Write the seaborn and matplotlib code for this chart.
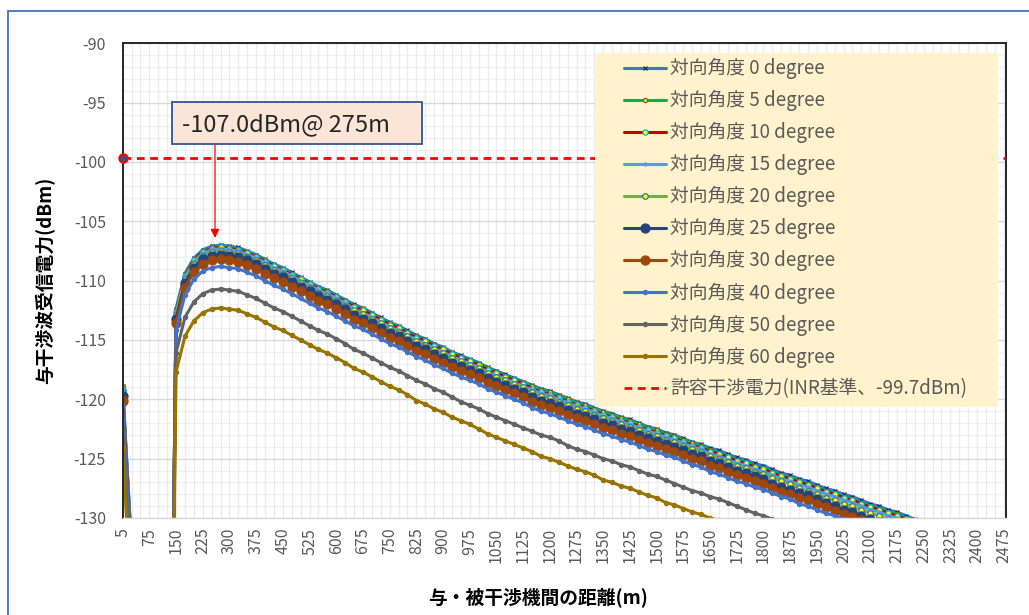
import matplotlib
matplotlib.use("Agg")
import matplotlib.pyplot as plt
from matplotlib.patches import Rectangle
import seaborn as sns

# ---------------- data ----------------
distance_m = [5] + list(range(25, 2500, 25))   # category axis (100 points)
angles = [0, 5, 10, 15, 20, 25, 30, 40, 50, 60]
inr_limit = -99.7
peak_text = "-107.0dBm@ 275m"

deg0 = [-118.9, -132.4, -180, -180, -180, -180,
        -112.4, -109.4, -108.1, -107.4, -107.1, -107.0, -107.1, -107.2, -107.5, -107.8,
        -108.2, -108.6, -108.9, -109.3, -109.7, -110.1, -110.5, -110.8, -111.2, -111.6,
        -112.0, -112.3, -112.7, -113.1, -113.5, -113.8, -114.2, -114.6, -114.9, -115.3,
        -115.6, -116.0, -116.3, -116.6, -116.9, -117.3, -117.6, -117.9, -118.2, -118.5,
        -118.8, -119.1, -119.3, -119.6, -119.9, -120.2, -120.4, -120.7, -121.0, -121.2,
        -121.5, -121.7, -122.0, -122.3, -122.5, -122.8, -123.0, -123.3, -123.6, -123.8,
        -124.1, -124.3, -124.6, -124.9, -125.1, -125.4, -125.6, -125.9, -126.2, -126.4,
        -126.7, -126.9, -127.2, -127.5, -127.7, -128.0, -128.2, -128.5, -128.8, -129.0,
        -129.3, -129.5, -129.8, -130.1, -130.3, -130.6, -130.8, -131.1, -131.4, -131.6,
        -131.9, -132.1, -132.4, -132.7]

deg5 = [-119.0, -132.5, -180, -180, -180, -180,
        -112.5, -109.5, -108.2, -107.5, -107.2, -107.1, -107.2, -107.3, -107.6, -107.9,
        -108.3, -108.7, -109.0, -109.4, -109.8, -110.2, -110.6, -110.9, -111.3, -111.7,
        -112.1, -112.4, -112.8, -113.2, -113.6, -113.9, -114.3, -114.7, -115.0, -115.4,
        -115.7, -116.1, -116.4, -116.7, -117.0, -117.4, -117.7, -118.0, -118.3, -118.6,
        -118.9, -119.2, -119.4, -119.7, -120.0, -120.3, -120.5, -120.8, -121.1, -121.3,
        -121.6, -121.8, -122.1, -122.4, -122.6, -122.9, -123.1, -123.4, -123.7, -123.9,
        -124.3, -124.5, -124.8, -125.1, -125.3, -125.6, -125.8, -126.1, -126.4, -126.6,
        -126.9, -127.1, -127.4, -127.7, -127.9, -128.2, -128.4, -128.7, -129.0, -129.2,
        -129.5, -129.7, -130.0, -130.3, -130.5, -130.8, -131.0, -131.3, -131.6, -131.8,
        -132.1, -132.3, -132.6, -132.9]

deg10 = [-119.2, -132.7, -180, -180, -180, -180,
         -112.6, -109.6, -108.3, -107.6, -107.3, -107.2, -107.3, -107.4, -107.7, -108.0,
         -108.4, -108.8, -109.1, -109.5, -109.9, -110.3, -110.7, -111.0, -111.4, -111.8,
         -112.2, -112.5, -112.9, -113.3, -113.7, -114.0, -114.4, -114.8, -115.1, -115.5,
         -115.8, -116.2, -116.5, -116.8, -117.1, -117.5, -117.8, -118.1, -118.4, -118.7,
         -119.1, -119.4, -119.6, -119.9, -120.2, -120.5, -120.7, -121.0, -121.3, -121.5,
         -121.8, -122.0, -122.3, -122.6, -122.8, -123.1, -123.3, -123.6, -123.9, -124.1,
         -124.4, -124.6, -124.9, -125.2, -125.4, -125.7, -125.9, -126.2, -126.5, -126.7,
         -127.0, -127.2, -127.5, -127.8, -128.0, -128.3, -128.5, -128.8, -129.1, -129.3,
         -129.6, -129.8, -130.1, -130.4, -130.6, -130.9, -131.1, -131.4, -131.7, -131.9,
         -132.2, -132.4, -132.7, -133.0]

deg15 = [-119.3, -132.8, -180, -180, -180, -180,
         -112.7, -109.7, -108.4, -107.7, -107.4, -107.3, -107.4, -107.5, -107.8, -108.1,
         -108.5, -108.9, -109.2, -109.6, -110.0, -110.4, -110.8, -111.1, -111.5, -111.9,
         -112.4, -112.7, -113.1, -113.5, -113.9, -114.2, -114.6, -115.0, -115.3, -115.7,
         -116.0, -116.4, -116.7, -117.0, -117.3, -117.7, -118.0, -118.3, -118.6, -118.9,
         -119.2, -119.5, -119.7, -120.0, -120.3, -120.6, -120.8, -121.1, -121.4, -121.6,
         -121.9, -122.1, -122.4, -122.7, -122.9, -123.2, -123.4, -123.7, -124.0, -124.2,
         -124.6, -124.8, -125.1, -125.4, -125.6, -125.9, -126.1, -126.4, -126.7, -126.9,
         -127.2, -127.4, -127.7, -128.0, -128.2, -128.5, -128.7, -129.0, -129.3, -129.5,
         -129.8, -130.0, -130.3, -130.6, -130.8, -131.1, -131.3, -131.6, -131.9, -132.1,
         -132.4, -132.6, -132.9, -133.2]

deg20 = [-119.4, -132.9, -180, -180, -180, -180,
         -112.9, -109.9, -108.6, -107.9, -107.6, -107.5, -107.6, -107.7, -108.0, -108.3,
         -108.7, -109.1, -109.4, -109.8, -110.2, -110.6, -111.0, -111.3, -111.7, -112.1,
         -112.5, -112.8, -113.2, -113.6, -114.0, -114.3, -114.7, -115.1, -115.4, -115.8,
         -116.1, -116.5, -116.8, -117.1, -117.4, -117.8, -118.1, -118.4, -118.7, -119.0,
         -119.4, -119.7, -119.9, -120.2, -120.5, -120.8, -121.0, -121.3, -121.6, -121.8,
         -122.1, -122.3, -122.6, -122.9, -123.1, -123.4, -123.6, -123.9, -124.2, -124.4,
         -124.8, -125.0, -125.3, -125.6, -125.8, -126.1, -126.3, -126.6, -126.9, -127.1,
         -127.5, -127.7, -128.0, -128.3, -128.5, -128.8, -129.0, -129.3, -129.6, -129.8,
         -130.1, -130.3, -130.6, -130.9, -131.1, -131.4, -131.6, -131.9, -132.2, -132.4,
         -132.7, -132.9, -133.2, -133.5]

deg25 = [-119.7, -133.2, -180, -180, -180, -180,
         -113.2, -110.2, -108.9, -108.2, -107.9, -107.8, -107.9, -108.0, -108.3, -108.6,
         -109.0, -109.4, -109.7, -110.1, -110.5, -110.9, -111.3, -111.6, -112.0, -112.4,
         -112.9, -113.2, -113.6, -114.0, -114.4, -114.7, -115.1, -115.5, -115.8, -116.2,
         -116.5, -116.9, -117.2, -117.5, -117.8, -118.2, -118.5, -118.8, -119.1, -119.4,
         -119.8, -120.1, -120.3, -120.6, -120.9, -121.2, -121.4, -121.7, -122.0, -122.2,
         -122.5, -122.7, -123.0, -123.3, -123.5, -123.8, -124.0, -124.3, -124.6, -124.8,
         -125.2, -125.4, -125.7, -126.0, -126.2, -126.5, -126.7, -127.1, -127.4, -127.6,
         -127.9, -128.1, -128.4, -128.7, -129.0, -129.3, -129.5, -129.8, -130.1, -130.3,
         -130.6, -130.8, -131.1, -131.4, -131.6, -131.9, -132.1, -132.4, -132.7, -132.9,
         -133.2, -133.4, -133.7, -134.0]

deg30 = [-120.1, -133.6, -180, -180, -180, -180,
         -113.6, -110.6, -109.3, -108.6, -108.3, -108.2, -108.3, -108.4, -108.7, -109.0,
         -109.4, -109.8, -110.1, -110.5, -110.9, -111.3, -111.7, -112.0, -112.4, -112.8,
         -113.3, -113.6, -114.0, -114.4, -114.8, -115.1, -115.5, -115.9, -116.2, -116.6,
         -116.9, -117.3, -117.6, -117.9, -118.2, -118.6, -118.9, -119.2, -119.5, -119.8,
         -120.2, -120.5, -120.7, -121.0, -121.3, -121.6, -121.8, -122.1, -122.4, -122.6,
         -122.9, -123.1, -123.4, -123.7, -123.9, -124.2, -124.4, -124.7, -125.0, -125.2,
         -125.6, -125.8, -126.1, -126.4, -126.6, -126.9, -127.1, -127.5, -127.8, -128.0,
         -128.3, -128.5, -128.8, -129.1, -129.4, -129.7, -129.9, -130.2, -130.5, -130.7,
         -131.0, -131.2, -131.5, -131.8, -132.0, -132.3, -132.5, -132.8, -133.1, -133.3,
         -133.6, -133.8, -134.1, -134.4]

deg40 = [-120.5, -134.0, -180, -180, -180, -180,
         -114.2, -111.2, -109.9, -109.2, -108.9, -108.8, -108.9, -109.0, -109.3, -109.6,
         -110.0, -110.4, -110.7, -111.1, -111.5, -111.9, -112.3, -112.6, -113.0, -113.4,
         -113.8, -114.1, -114.5, -114.9, -115.3, -115.6, -116.0, -116.4, -116.7, -117.1,
         -117.4, -117.8, -118.1, -118.4, -118.7, -119.1, -119.4, -119.7, -120.0, -120.3,
         -120.7, -121.0, -121.2, -121.5, -121.8, -122.1, -122.3, -122.6, -122.9, -123.1,
         -123.4, -123.6, -123.9, -124.2, -124.4, -124.7, -124.9, -125.2, -125.5, -125.7,
         -126.1, -126.3, -126.6, -126.9, -127.1, -127.4, -127.6, -127.9, -128.2, -128.4,
         -128.8, -129.0, -129.3, -129.6, -129.8, -130.1, -130.3, -130.6, -130.9, -131.1,
         -131.4, -131.6, -131.9, -132.2, -132.4, -132.7, -132.9, -133.2, -133.5, -133.7,
         -134.0, -134.2, -134.5, -134.8]

deg50 = [-122.4, -135.9, -180, -180, -180, -180,
         -116.1, -113.1, -111.8, -111.1, -110.8, -110.7, -110.8, -110.9, -111.2, -111.5,
         -111.9, -112.3, -112.6, -113.0, -113.4, -113.8, -114.2, -114.5, -114.9, -115.3,
         -115.8, -116.1, -116.5, -116.9, -117.3, -117.6, -118.0, -118.4, -118.7, -119.1,
         -119.4, -119.8, -120.2, -120.5, -120.8, -121.2, -121.5, -121.8, -122.1, -122.4,
         -122.7, -123.0, -123.2, -123.5, -123.9, -124.2, -124.4, -124.7, -125.0, -125.2,
         -125.5, -125.7, -126.0, -126.3, -126.5, -126.8, -127.1, -127.4, -127.7, -127.9,
         -128.2, -128.4, -128.7, -129.0, -129.3, -129.6, -129.8, -130.1, -130.4, -130.6,
         -130.9, -131.1, -131.4, -131.7, -132.0, -132.3, -132.5, -132.8, -133.1, -133.3,
         -133.6, -133.8, -134.1, -134.4, -134.6, -134.9, -135.1, -135.4, -135.7, -135.9,
         -136.2, -136.4, -136.7, -137.0]

deg60 = [-124.1, -137.6, -180, -180, -180, -180,
         -117.7, -114.7, -113.4, -112.7, -112.4, -112.3, -112.4, -112.5, -112.8, -113.1,
         -113.5, -113.9, -114.2, -114.6, -115.0, -115.4, -115.8, -116.1, -116.5, -116.9,
         -117.4, -117.7, -118.1, -118.5, -118.9, -119.2, -119.6, -120.1, -120.4, -120.8,
         -121.1, -121.5, -121.8, -122.1, -122.5, -122.9, -123.2, -123.5, -123.8, -124.1,
         -124.4, -124.8, -125.0, -125.3, -125.6, -125.9, -126.1, -126.4, -126.8, -127.0,
         -127.3, -127.5, -127.8, -128.1, -128.3, -128.7, -128.9, -129.2, -129.5, -129.7,
         -130.0, -130.2, -130.6, -130.9, -131.1, -131.4, -131.6, -131.9, -132.2, -132.5,
         -132.8, -133.0, -133.3, -133.6, -133.8, -134.1, -134.3, -134.6, -134.9, -135.1,
         -135.4, -135.6, -135.9, -136.2, -136.4, -136.7, -136.9, -137.2, -137.5, -137.7,
         -138.0, -138.2, -138.5, -138.8]

series = [deg0, deg5, deg10, deg15, deg20, deg25, deg30, deg40, deg50, deg60]

# line colour, marker, marker size, marker face, marker edge
styles = [
    ("#4472C4", "x", 3.5, "#1F2A5A", "#1F2A5A"),
    ("#00B050", "o", 3.0, "#E6E87A", "#7F6000"),
    ("#C00000", "o", 3.8, "#FFFF00", "#00B0F0"),
    ("#5B9BD5", "o", 2.2, "#5B9BD5", "#5B9BD5"),
    ("#70AD47", "o", 4.0, "#FFFF00", "#2E75B6"),
    ("#264478", "o", 6.5, "#264478", "#264478"),
    ("#9E480E", "o", 6.5, "#9E480E", "#9E480E"),
    ("#4472C4", "o", 3.0, "#4472C4", "#4472C4"),
    ("#636363", "o", 3.0, "#636363", "#636363"),
    ("#997300", "o", 3.0, "#997300", "#997300"),
]

# ---------------- figure ----------------
sns.set_style("white")
plt.rcParams["font.family"] = ["Noto Sans CJK JP", "DejaVu Sans"]
plt.rcParams["axes.unicode_minus"] = False

W, H = 1029, 615
fig = plt.figure(figsize=(W / 100, H / 100), dpi=100)
ax = fig.add_axes([122.6 / W, 1 - 518 / H, (1006 - 122.6) / W, (518 - 43.3) / H])

cat = list(range(len(distance_m)))

for ang, vals, (lc, mk, ms, mfc, mec) in zip(angles, series, styles):
    sns.lineplot(x=cat, y=vals, ax=ax, color=lc, lw=2.2, marker=mk,
                 markersize=ms, markerfacecolor=mfc, markeredgecolor=mec,
                 markeredgewidth=0.9, estimator=None, errorbar=None,
                 label=f"対向角度 {ang} degree")

ax.axhline(inr_limit, color="#FF0000", lw=2.0, dashes=(2.8, 2.0),
           label="許容干渉電力(INR基準、-99.7dBm)", zorder=3)
ax.plot([cat[0]], [inr_limit], "o", ms=6, mfc="#2F5597", mec="#FF0000",
        mew=1.5, clip_on=False, zorder=4)

ax.set_xlim(0, 99.25)
ax.set_ylim(-130, -90)

ax.set_xticks(cat[::3])
ax.set_xticklabels([str(d) for d in distance_m[::3]], rotation=90)
ax.set_xticks(cat, minor=True)
ax.set_yticks(range(-130, -89, 5))
ax.set_yticks(range(-130, -89, 1), minor=True)

ax.grid(which="major", axis="y", color="#D9D9D9", lw=1.0)
ax.grid(which="minor", axis="y", color="#F0F0F0", lw=1.0)
ax.grid(which="both", axis="x", color="#EBEBEB", lw=1.0)
ax.set_axisbelow(True)

ax.tick_params(axis="x", which="both", length=3, color="#D9D9D9",
               labelsize=11.5, labelcolor="#595959", pad=4)
ax.tick_params(axis="y", which="both", length=0, labelsize=11.5,
               labelcolor="#595959", pad=12)

for side in ["left", "top", "right"]:
    ax.spines[side].set_color("#262626")
    ax.spines[side].set_linewidth(1.4)
ax.spines["bottom"].set_color("#D9D9D9")
ax.spines["bottom"].set_linewidth(1.0)

ax.set_xlabel("与・被干渉機間の距離(m)", fontsize=13.5, fontweight="bold",
              color="#000000", va="center")
ax.set_ylabel("与干渉波受信電力(dBm)", fontsize=13.5, fontweight="bold",
              color="#000000", va="center")
ax.xaxis.set_label_coords((538 - 122.6) / 883.4, -(597 - 518) / 474.7)
ax.yaxis.set_label_coords(-(122.6 - 45) / 883.4, (518 - 280) / 474.7)

# legend with its own cream background
fig.patches.append(Rectangle((595 / W, 1 - 407 / H), 403 / W, 354 / H,
                             transform=fig.transFigure, facecolor="#FFF2CC",
                             edgecolor="none", zorder=4))
leg = ax.legend(loc="upper left", bbox_to_anchor=(624 / W, 1 - 58 / H),
                bbox_transform=fig.transFigure, frameon=False, fontsize=13.5,
                handlelength=2.25, handletextpad=0.2, labelspacing=0.58,
                borderpad=0, borderaxespad=0, numpoints=1)
for t in leg.get_texts():
    t.set_color("#595959")
leg.set_zorder(6)
leg.remove()
fig.legends.append(leg)
leg.set_figure(fig)

# annotation box and arrow
fig.patches.append(Rectangle((172 / W, 1 - 144 / H), 250 / W, 42 / H,
                             transform=fig.transFigure, facecolor="#FBE5D6",
                             edgecolor="#2F5597", lw=1.3, zorder=5))
fig.text(182 / W, 1 - 125 / H, peak_text, fontsize=17, color="#262626",
         va="center", ha="left", zorder=6)
ax.annotate("", xy=(215 / W, 1 - 238 / H), xytext=(215 / W, 1 - 145 / H),
            xycoords="figure fraction", textcoords="figure fraction",
            arrowprops=dict(arrowstyle="-|>", color="#FF0000", lw=0.9,
                            mutation_scale=13, shrinkA=0, shrinkB=0))

# chart area border
fig.patches.append(Rectangle((8 / W, -0.05), 1.2, 1.05 - 11 / H,
                             transform=fig.transFigure, fill=False,
                             edgecolor="#4472C4", lw=1.3, zorder=1))

fig.savefig("out.png", dpi=100)
